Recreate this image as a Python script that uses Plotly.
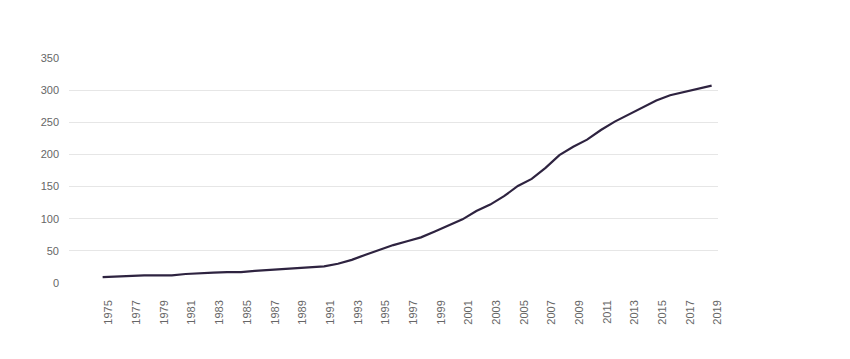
import plotly.graph_objects as go

years = list(range(1975, 2020))
values = [9, 10, 12, 12, 12, 12, 14, 14.5, 16, 17, 17,
          19, 20.5, 22, 22.5, 24.5, 26, 30, 36, 44, 52,
          59, 65, 71, 80, 90, 99, 112, 122, 135, 151,
          162, 179, 199, 212, 223, 238, 251, 262, 272, 284,
          292, 297, 302, 307]
tick_years = list(range(1975, 2020, 2))
y_ticks = [0, 50, 100, 150, 200, 250, 300, 350]

# labels in the reference sit slightly right of the data points
label_offset = 0.45

fig = go.Figure()
fig.add_trace(go.Scatter(
    x=years, y=values, mode="lines",
    line=dict(color="#2e2340", width=2.2),
    hoverinfo="x+y", showlegend=False,
))

fig.update_layout(
    width=850, height=359,
    margin=dict(l=61, r=140, t=50, b=83.5),
    paper_bgcolor="white", plot_bgcolor="white",
    font=dict(family="Liberation Sans, Arial, sans-serif", size=11, color="#666666"),
    xaxis=dict(
        range=[1972.57, 2019.46],
        tickmode="array", tickvals=[y + label_offset for y in tick_years],
        ticktext=[str(y) for y in tick_years],
        tickangle=-90, showgrid=False, zeroline=False,
        showline=False, ticks="", ticklabelstandoff=14,
        tickfont=dict(size=11, color="#666666"),
    ),
    yaxis=dict(
        range=[0, 350], tickmode="array", tickvals=y_ticks,
        showgrid=True, gridcolor="#e6e6e6", gridwidth=1,
        zeroline=False, showline=False, ticks="",
        ticklabelstandoff=9,
        tickfont=dict(size=11, color="#666666"),
    ),
)

fig.write_html("out.html")
